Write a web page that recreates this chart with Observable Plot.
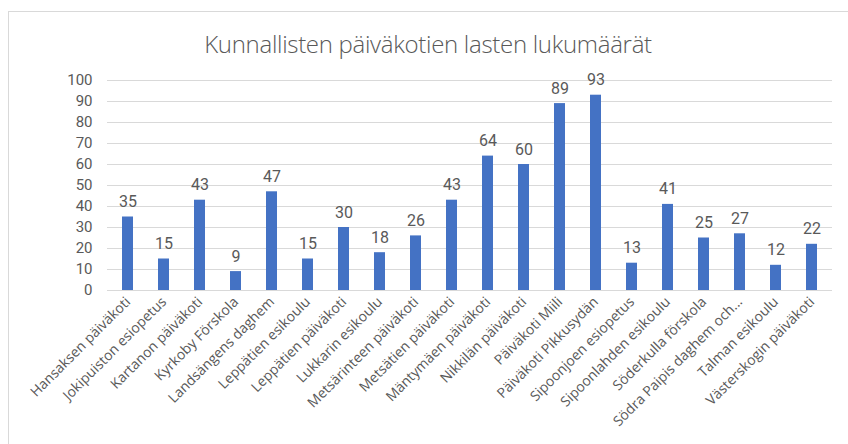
<!DOCTYPE html>
<html><head><meta charset="utf-8">
<script src="https://cdn.jsdelivr.net/npm/d3@7"></script>
<script src="https://cdn.jsdelivr.net/npm/@observablehq/plot@0.6"></script>
<style>
body{margin:0;background:#fff;width:848px;height:444px;overflow:hidden;position:relative;font-family:"Open Sans",sans-serif;}
#frame{position:absolute;left:8px;top:11px;width:860px;height:460px;border:1px solid #d9d9d9;box-sizing:border-box;}
#title{position:absolute;left:0;top:27px;width:856px;text-align:center;font-family:"Open Sans",sans-serif;font-size:24px;color:#595959;font-weight:300;letter-spacing:-0.3px;}
#chart{position:absolute;left:0;top:60px;}
</style></head><body>
<div id="frame"></div>
<div id="title">Kunnallisten päiväkotien lasten lukumäärät</div>
<div id="chart"></div>
<script>
const categories = ["Hansaksen päiväkoti","Jokipuiston esiopetus","Kartanon päiväkoti","Kyrkoby Förskola","Landsängens daghem","Leppätien esikoulu","Leppätien päiväkoti","Lukkarin esikoulu","Metsärinteen päiväkoti","Metsätien päiväkoti","Mäntymäen päiväkoti","Nikkilän päiväkoti","Päiväkoti Miili","Päiväkoti Pikkusydän","Sipoonjoen esiopetus","Sipoonlahden esikoulu","Söderkulla förskola","Södra Paipis daghem och...","Talman esikoulu","Västerskogin päiväkoti"];
const values = [35,15,43,9,47,15,30,18,26,43,64,60,89,93,13,41,25,27,12,22];
const yTicks = [0,10,20,30,40,50,60,70,80,90,100];
const data = categories.map((c,i)=>({name:c,value:values[i]}));

const chart = Plot.plot({
  width: 848,
  height: 384,
  marginLeft: 107,
  marginRight: 16,
  marginTop: 20,
  marginBottom: 154,
  style: {fontFamily: "'Open Sans', sans-serif", background: "transparent"},
  x: {domain: categories, paddingInner: 0.69, paddingOuter: 0.345, label: null},
  y: {domain: [0,100], label: null},
  marks: [
    Plot.ruleY(yTicks, {stroke: "#d9d9d9", strokeWidth: 1.2}),
    Plot.barY(data, {x: "name", y: "value", fill: "#4472C4"}),
    Plot.text(data, {x: "name", y: "value", text: d => String(d.value), dy: -10, lineAnchor: "bottom", fontSize: 16, fill: "#595959", fontFamily: "Roboto, sans-serif"}),
    Plot.axisY({ticks: yTicks, tickSize: 0, tickPadding: 15, fontSize: 15, color: "#595959", label: null, fontFamily: "Roboto, sans-serif"}),
    Plot.axisX({tickSize: 0, tickPadding: 9, tickRotate: -45, fontSize: 14, color: "#595959", label: null})
  ]
});
document.getElementById("chart").appendChild(chart);
</script>
</body></html>
